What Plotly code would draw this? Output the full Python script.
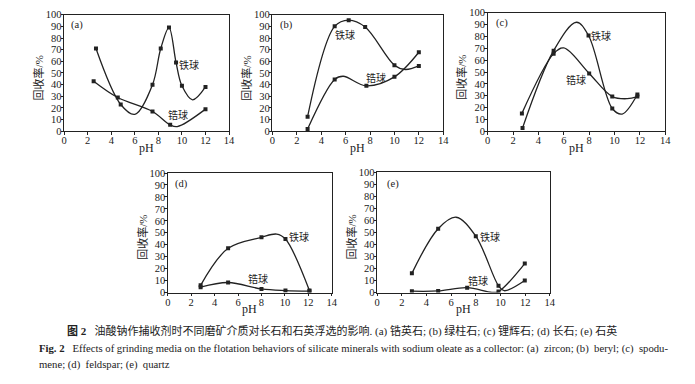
import plotly.graph_objects as go

W, H = 695, 384

# ---------------- data (pH, recovery %) ----------------
# (a) zircon
a_fe_ph = [2.7, 4.8, 7.5, 8.2, 8.9, 9.5, 10.0, 12.0]
a_fe = [71, 23, 40, 71, 89, 59, 39, 38]
a_fe_turn_ph = [6.0, 10.9]          # curve turning points
a_fe_turn = [14.5, 27]
a_zr_ph = [2.5, 4.55, 7.5, 9.0, 12.0]
a_zr = [43, 29, 17, 5.5, 19]
a_zr_turn_ph = [9.6]
a_zr_turn = [4]

# (b) beryl
b_fe_ph = [2.88, 5.1, 6.25, 7.6, 10.0, 12.0]
b_fe = [12.5, 90, 95.3, 89.4, 56.7, 56.1]
b_fe_turn_ph = [10.9]
b_fe_turn = [53]
b_zr_ph = [2.88, 5.1, 7.7, 10.0, 12.0]
b_zr = [2, 44.5, 39, 46.7, 67.8]
b_zr_turn_ph = [5.8]
b_zr_turn = [47.2]

# (c) spodumene
c_fe_ph = [2.75, 5.2, 7.95, 9.82, 11.8]
c_fe = [2.7, 68, 80.8, 19.2, 31]
c_fe_turn_ph = [7.0, 10.6]
c_fe_turn = [92, 14.5]
c_zr_ph = [2.7, 5.2, 8.0, 9.82, 11.8]
c_zr = [15.1, 65.5, 48.8, 29.3, 29.3]
c_zr_turn_ph = [6.0, 11.0]
c_zr_turn = [70.3, 27.5]

# (d) feldspar
d_fe_ph = [2.8, 5.15, 8.0, 10.05, 12.1]
d_fe = [6, 37, 46.2, 44.8, 1.6]
d_fe_turn_ph = [9.3]
d_fe_turn = [48.9]
d_zr_ph = [2.8, 5.15, 8.0, 10.05, 12.1]
d_zr = [4.5, 8.4, 3.0, 1.6, 1.1]
d_zr_turn_ph = []
d_zr_turn = []

# (e) quartz
e_fe_ph = [2.82, 4.95, 8.0, 9.84, 11.97]
e_fe = [15.9, 53, 46.8, 5.6, 10]
e_fe_turn_ph = [6.4, 10.3]
e_fe_turn = [62.5, 1.5]
e_zr_ph = [2.82, 4.95, 7.3, 9.84, 11.97]
e_zr = [1.1, 1.3, 4.0, 0.8, 24]
e_zr_turn_ph = [9.3]
e_zr_turn = [0.1]

x_ticks = [0, 2, 4, 6, 8, 10, 12, 14]
y_ticks = [0, 10, 20, 30, 40, 50, 60, 70, 80, 90, 100]

label_fe = "铁球"
label_zr = "锆球"
y_title = "回收率/%"
x_title = "pH"

panels = [
    dict(tag="(a)", box=(62, 229, 10, 130),
         fe=(a_fe_ph, a_fe, a_fe_turn_ph, a_fe_turn),
         zr=(a_zr_ph, a_zr, a_zr_turn_ph, a_zr_turn),
         fe_lab=(10.6, 57), zr_lab=(9.7, 13.7), tag_pos=(1.05, 91)),
    dict(tag="(b)", box=(273, 446, 10, 130),
         fe=(b_fe_ph, b_fe, b_fe_turn_ph, b_fe_turn),
         zr=(b_zr_ph, b_zr, b_zr_turn_ph, b_zr_turn),
         fe_lab=(5.95, 83), zr_lab=(8.45, 46), tag_pos=(1.15, 91)),
    dict(tag="(c)", box=(491, 671, 8, 130),
         fe=(c_fe_ph, c_fe, c_fe_turn_ph, c_fe_turn),
         zr=(c_zr_ph, c_zr, c_zr_turn_ph, c_zr_turn),
         fe_lab=(8.95, 80.5), zr_lab=(6.95, 43.5), tag_pos=(1.1, 91)),
    dict(tag="(d)", box=(167, 333, 173, 296),
         fe=(d_fe_ph, d_fe, d_fe_turn_ph, d_fe_turn),
         zr=(d_zr_ph, d_zr, d_zr_turn_ph, d_zr_turn),
         fe_lab=(11.2, 46.5), zr_lab=(7.7, 11), tag_pos=(1.2, 91)),
    dict(tag="(e)", box=(379, 554, 172, 296),
         fe=(e_fe_ph, e_fe, e_fe_turn_ph, e_fe_turn),
         zr=(e_zr_ph, e_zr, e_zr_turn_ph, e_zr_turn),
         fe_lab=(9.15, 46.5), zr_lab=(8.2, 9.5), tag_pos=(1.25, 90)),
]

SERIF = "Liberation Serif, Times New Roman, serif"
MIXED = "Liberation Serif, Noto Sans CJK SC, serif"
INK = "#222222"


def merged(ph, vals, tph, tvals):
    pairs = sorted(zip(list(ph) + list(tph), list(vals) + list(tvals)))
    return [p[0] for p in pairs], [p[1] for p in pairs]


fig = go.Figure()
annotations = []
layout_axes = {}

for i, p in enumerate(panels, start=1):
    l, r, t, b = p["box"]
    xs = "x" if i == 1 else f"x{i}"
    ys = "y" if i == 1 else f"y{i}"
    xname = "xaxis" if i == 1 else f"xaxis{i}"
    yname = "yaxis" if i == 1 else f"yaxis{i}"

    for key in ("fe", "zr"):
        ph, vals, tph, tvals = p[key]
        cx, cy = merged(ph, vals, tph, tvals)
        fig.add_trace(go.Scatter(x=cx, y=cy, mode="lines", xaxis=xs, yaxis=ys,
                                 line=dict(color=INK, width=1.3, shape="spline", smoothing=1.0),
                                 hoverinfo="skip", showlegend=False))
        fig.add_trace(go.Scatter(x=ph, y=vals, mode="markers", xaxis=xs, yaxis=ys,
                                 marker=dict(symbol="square", size=4, color=INK),
                                 showlegend=False))

    common = dict(showline=True, linecolor=INK, linewidth=1, mirror=True,
                  ticks="outside", ticklen=2.5, tickcolor=INK, tickwidth=1,
                  showgrid=False, zeroline=False, ticklabelstandoff=-3,
                  tickfont=dict(family=SERIF, size=10.5, color=INK))
    layout_axes[xname] = dict(domain=[l / W, r / W], range=[0, 14], tickvals=x_ticks,
                              anchor=ys, **common)
    layout_axes[yname] = dict(domain=[1 - b / H, 1 - t / H], range=[0, 100], tickvals=y_ticks,
                              anchor=xs, **common)

    # series labels
    for lab, pos in ((label_fe, p["fe_lab"]), (label_zr, p["zr_lab"])):
        annotations.append(dict(x=pos[0], y=pos[1], xref=xs, yref=ys, text=lab,
                                xanchor="center", yanchor="middle", showarrow=False,
                                font=dict(family=MIXED, size=10, color=INK)))
    # panel tag
    annotations.append(dict(x=p["tag_pos"][0], y=p["tag_pos"][1], xref=xs, yref=ys, text=p["tag"],
                            xanchor="center", yanchor="middle",
                            showarrow=False, font=dict(family=SERIF, size=10.5, color=INK)))
    # axis titles
    annotations.append(dict(x=(l + r) / 2 / W, y=1 - (b + 17) / H, xref="paper", yref="paper",
                            text=x_title, showarrow=False, xanchor="center", yanchor="middle",
                            font=dict(family=SERIF, size=12, color=INK)))
    annotations.append(dict(x=(l - 26) / W, y=1 - ((t + b) / 2 + 5) / H, xref="paper", yref="paper",
                            text=y_title, textangle=-90, showarrow=False,
                            xanchor="center", yanchor="middle",
                            font=dict(family=MIXED, size=11, color=INK)))

# caption
cap1 = ("<b>图 2</b>   油酸钠作捕收剂时不同磨矿介质对长石和石英浮选的影响. (a) 锆英石; (b) 绿柱石; "
        "(c) 锂辉石; (d) 长石; (e) 石英")
cap2 = ("<b>Fig. 2</b>   Effects of grinding media on the flotation behaviors of silicate minerals "
        "with sodium oleate as a collector: (a)  zircon; (b)  beryl; (c)  spodu-")
cap3 = "mene; (d)  feldspar; (e)  quartz"
annotations.append(dict(x=343 / W, y=1 - 336 / H, xref="paper", yref="paper", text=cap1,
                        xanchor="center", yanchor="middle", showarrow=False,
                        font=dict(family=MIXED, size=11, color=INK)))
for txt, px, py in [(cap2, 34, 354), (cap3, 34, 370)]:
    annotations.append(dict(x=px / W, y=1 - py / H, xref="paper", yref="paper", text=txt,
                            xanchor="left", yanchor="middle", showarrow=False,
                            font=dict(family=SERIF, size=10.7, color=INK)))

fig.update_layout(width=W, height=H, margin=dict(l=0, r=0, t=0, b=0),
                  paper_bgcolor="white", plot_bgcolor="white",
                  annotations=annotations, **layout_axes)

fig.write_html("out.html", config={"displayModeBar": False},
               post_script="document.body.style.margin='0';document.body.style.padding='0';")
